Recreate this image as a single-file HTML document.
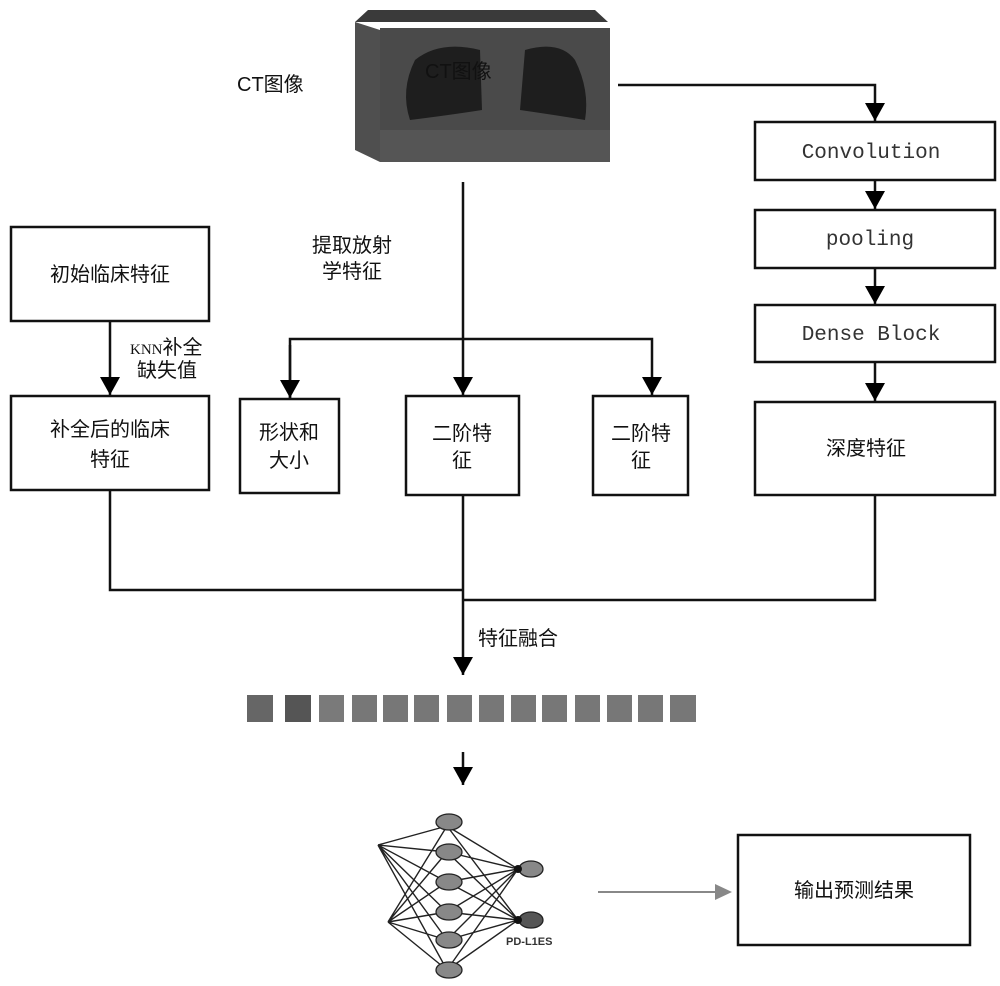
<!DOCTYPE html>
<html><head><meta charset="utf-8"><style>
html,body{margin:0;padding:0;background:#fff}
svg{display:block}
.c{font-family:"Liberation Sans","Noto Sans CJK SC",sans-serif;font-size:20px;fill:#111}
.m{font-family:"Liberation Mono",monospace;font-size:21px;fill:#333}
</style></head><body>
<svg width="1000" height="986" viewBox="0 0 1000 986" xmlns="http://www.w3.org/2000/svg">
<defs>
<marker id="a" markerWidth="20" markerHeight="20" refX="18" refY="10" orient="auto" markerUnits="userSpaceOnUse" viewBox="0 0 20 20"><path d="M0,0 L18,10 L0,20z" fill="#000"/></marker>
</defs>
<polygon points="355,22 368,10 595,10 608,22" fill="#3a3a3a"/>
<polygon points="355,22 380,30 380,162 355,150" fill="#4f4f4f"/>
<rect x="380" y="28" width="230" height="134" fill="#4a4a4a"/>
<path d="M415,60 Q440,40 480,50 L482,110 Q450,115 410,120 Q400,90 415,60z" fill="#1e1e1e"/>
<path d="M525,50 Q560,40 575,60 Q590,90 585,120 Q555,115 520,110z" fill="#1e1e1e"/>
<rect x="380" y="130" width="230" height="32" fill="#555"/>
<text x="237" y="91" class="c" font-size="17">CT图像</text>
<text x="425" y="78" class="c" font-size="17" fill="#222">CT图像</text>

<g fill="none" stroke="#111" stroke-width="2.5">
<rect x="11" y="227" width="198" height="94"/>
<rect x="11" y="396" width="198" height="94"/>
<rect x="240" y="399" width="99" height="94"/>
<rect x="406" y="396" width="113" height="99"/>
<rect x="593" y="396" width="95" height="99"/>
<rect x="755" y="122" width="240" height="58"/>
<rect x="755" y="210" width="240" height="58"/>
<rect x="755" y="305" width="240" height="57"/>
<rect x="755" y="402" width="240" height="93"/>
<rect x="738" y="835" width="232" height="110"/>
<path d="M618,85 H875 V121" marker-end="url(#a)"/>
<path d="M875,180 V209" marker-end="url(#a)"/>
<path d="M875,268 V304" marker-end="url(#a)"/>
<path d="M875,362 V401" marker-end="url(#a)"/>
<path d="M463,182 V395" marker-end="url(#a)"/>
<path d="M290,398 V339 H652 V395" marker-end="url(#a)"/>
<path d="M290,345 V398" marker-end="url(#a)"/>
<path d="M110,321 V395" marker-end="url(#a)"/>
<path d="M110,490 V590 H463"/>
<path d="M463,495 V675" marker-end="url(#a)"/>
<path d="M463,600 H875 V495"/>
<path d="M463,752 V785" marker-end="url(#a)"/>
</g>
<path d="M598,892 H718" stroke="#888" stroke-width="2" fill="none"/>
<polygon points="715,884 732,892 715,900" fill="#888"/>

<text x="110" y="281" class="c" text-anchor="middle">初始临床特征</text>
<text x="130" y="354" class="c" font-size="18"><tspan font-family="Liberation Serif" font-size="15">KNN</tspan>补全</text>
<text x="137" y="377" class="c" font-size="18">缺失值</text>
<text x="110" y="436" class="c" text-anchor="middle">补全后的临床</text>
<text x="110" y="466" class="c" text-anchor="middle">特征</text>
<text x="289" y="439" class="c" text-anchor="middle">形状和</text>
<text x="289" y="467" class="c" text-anchor="middle">大小</text>
<text x="462" y="440" class="c" text-anchor="middle">二阶特</text>
<text x="462" y="467" class="c" text-anchor="middle">征</text>
<text x="641" y="440" class="c" text-anchor="middle">二阶特</text>
<text x="641" y="467" class="c" text-anchor="middle">征</text>
<text x="352" y="252" class="c" text-anchor="middle">提取放射</text>
<text x="352" y="278" class="c" text-anchor="middle">学特征</text>
<text x="871" y="158" class="m" text-anchor="middle">Convolution</text>
<text x="870" y="245" class="m" text-anchor="middle">pooling</text>
<text x="871" y="340" class="m" text-anchor="middle">Dense Block</text>
<text x="866" y="455" class="c" text-anchor="middle">深度特征</text>
<text x="478" y="645" class="c" font-size="18">特征融合</text>
<text x="854" y="897" class="c" text-anchor="middle">输出预测结果</text>

<g fill="#777">
<rect x="247" y="695" width="26" height="27" fill="#666"/>
<rect x="285" y="695" width="26" height="27" fill="#555"/>
<rect x="319" y="695" width="25" height="27" fill="#7a7a7a"/>
<rect x="352" y="695" width="25" height="27"/>
<rect x="383" y="695" width="25" height="27"/>
<rect x="414" y="695" width="25" height="27"/>
<rect x="447" y="695" width="25" height="27"/>
<rect x="479" y="695" width="25" height="27"/>
<rect x="511" y="695" width="25" height="27"/>
<rect x="542" y="695" width="25" height="27"/>
<rect x="575" y="695" width="25" height="27"/>
<rect x="607" y="695" width="25" height="27"/>
<rect x="638" y="695" width="25" height="27"/>
<rect x="670" y="695" width="26" height="27"/>
</g>

<g stroke="#222" stroke-width="1.4" fill="none">
<path d="M378,845 L447,826 M378,845 L447,852 M378,845 L447,882 M378,845 L447,912 M378,845 L447,940 M378,845 L447,970
M388,922 L447,826 M388,922 L447,852 M388,922 L447,882 M388,922 L447,912 M388,922 L447,940 M388,922 L447,970
M447,826 L518,869 M447,852 L518,869 M447,882 L518,869 M447,912 L518,869 M447,940 L518,869 M447,970 L518,869
M447,826 L518,920 M447,852 L518,920 M447,882 L518,920 M447,912 L518,920 M447,940 L518,920 M447,970 L518,920"/>
</g>
<g fill="#888" stroke="#222" stroke-width="1.3">
<ellipse cx="449" cy="822" rx="13" ry="8"/>
<ellipse cx="449" cy="852" rx="13" ry="8"/>
<ellipse cx="449" cy="882" rx="13" ry="8"/>
<ellipse cx="449" cy="912" rx="13" ry="8"/>
<ellipse cx="449" cy="940" rx="13" ry="8"/>
<ellipse cx="449" cy="970" rx="13" ry="8"/>
<ellipse cx="531" cy="869" rx="12" ry="8"/>
<ellipse cx="531" cy="920" rx="12" ry="8" fill="#555"/>
</g>
<circle cx="518" cy="869" r="4" fill="#111"/>
<circle cx="518" cy="920" r="4" fill="#111"/>
<text x="506" y="945" font-family="Liberation Sans" font-size="11" font-weight="bold" fill="#333">PD-L1ES</text>
</svg>
</body></html>
